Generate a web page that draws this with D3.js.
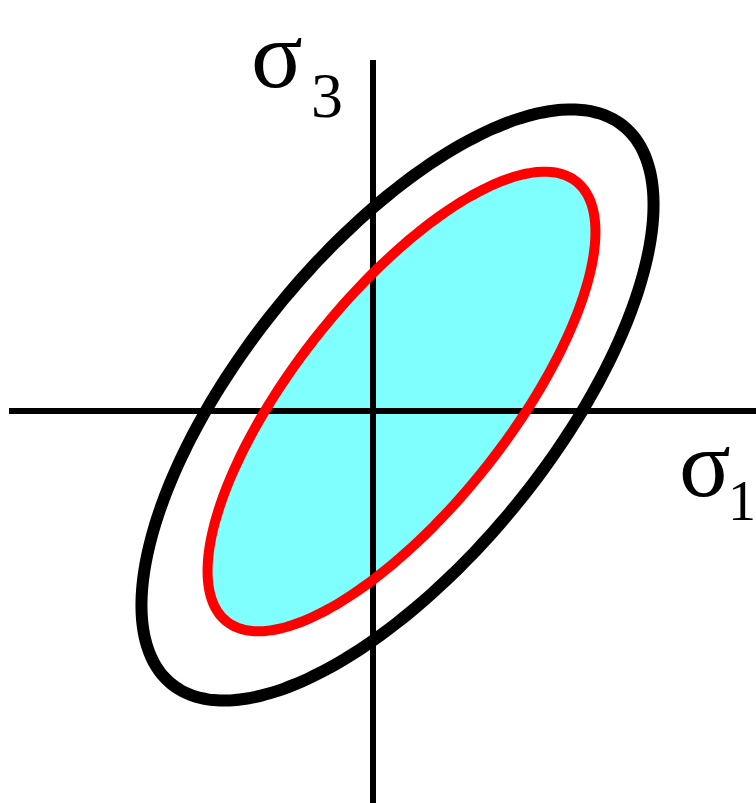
<!DOCTYPE html>
<html>
<head>
<meta charset="utf-8">
<script src="https://cdn.jsdelivr.net/npm/d3@7"></script>
<style>
  html, body { margin: 0; padding: 0; background: #ffffff; }
  svg { display: block; }
</style>
</head>
<body>
<script>
// Stress-space axes (σ1 horizontal, σ3 vertical), in stress units
const sigma1Range = [-3.64, 3.83];
const sigma3Range = [-3.92, 3.51];

// Two yield envelopes: outer (black) and inner (red, shaded)
const envelopeNames = ["outer", "inner"];
const centerS1 = [0.245, 0.285];
const centerS3 = [0.06, 0.095];
const semiMajor = [3.59, 2.81];
const semiMinor = [1.55, 1.07];
const tiltDeg = [51, 51.5];

const width = 756, height = 803;

const x = d3.scaleLinear().domain([-3.73, 3.83]).range([0, width]);
const y = d3.scaleLinear().domain([4.11, -3.92]).range([0, height]);

const svg = d3.select("body").append("svg")
  .attr("width", width).attr("height", height);

const envelopes = envelopeNames.map((name, i) => {
  const t = tiltDeg[i] * Math.PI / 180;
  const pts = d3.range(0, 360, 2).map(deg => {
    const p = deg * Math.PI / 180;
    const u = semiMajor[i] * Math.cos(p), v = semiMinor[i] * Math.sin(p);
    return [centerS1[i] + u * Math.cos(t) - v * Math.sin(t),
            centerS3[i] + u * Math.sin(t) + v * Math.cos(t)];
  });
  return { name, pts };
});

const line = d3.line().x(d => x(d[0])).y(d => y(d[1])).curve(d3.curveCardinalClosed);

const style = {
  outer: { fill: "none", stroke: "#000000", width: 12 },
  inner: { fill: "#80ffff", stroke: "#ff0000", width: 10 }
};

// shaded interior of the inner envelope
svg.append("path")
  .attr("d", line(envelopes[1].pts))
  .attr("fill", style.inner.fill)
  .attr("stroke", "none");

// axes
svg.append("line")
  .attr("x1", x(sigma1Range[0])).attr("x2", x(sigma1Range[1]))
  .attr("y1", y(0)).attr("y2", y(0))
  .attr("stroke", "#000").attr("stroke-width", 6);
svg.append("line")
  .attr("x1", x(0)).attr("x2", x(0))
  .attr("y1", y(sigma3Range[1])).attr("y2", y(sigma3Range[0]))
  .attr("stroke", "#000").attr("stroke-width", 6);

// envelope outlines
svg.selectAll("path.envelope")
  .data(envelopes)
  .enter().append("path")
  .attr("class", "envelope")
  .attr("d", d => line(d.pts))
  .attr("fill", "none")
  .attr("stroke", d => style[d.name].stroke)
  .attr("stroke-width", d => style[d.name].width);

// axis labels
const serif = "'Liberation Serif', 'DejaVu Serif', serif";
const s3 = svg.append("text")
  .attr("x", 251).attr("y", 87)
  .attr("font-family", serif).attr("font-size", 96).attr("fill", "#000");
s3.append("tspan").text("σ");
s3.append("tspan").attr("x", 311).attr("y", 117).attr("font-size", 64).text("3");

const s1 = svg.append("text")
  .attr("x", 679).attr("y", 496)
  .attr("font-family", serif).attr("font-size", 96).attr("fill", "#000");
s1.append("tspan").text("σ");
s1.append("tspan").attr("x", 728).attr("y", 520).attr("font-size", 56).text("1");
</script>
</body>
</html>
